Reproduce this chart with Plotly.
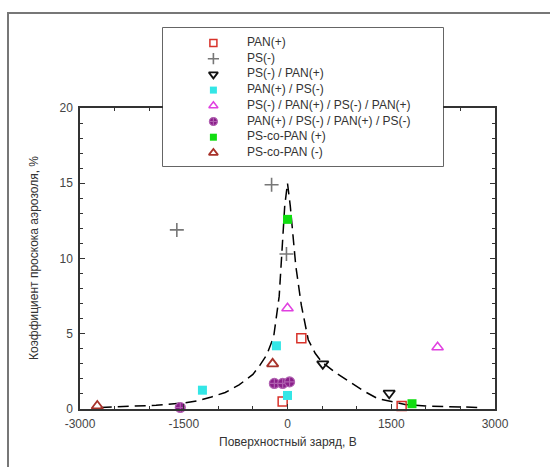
import plotly.graph_objects as go

W, H = 550, 467

# ---- data ----
pan_p_x = [-70, 200, 1650]
pan_p_y = [0.5, 4.7, 0.2]
ps_m_x = [-1600, -230, -15]
ps_m_y = [11.9, 14.9, 10.3]
ps_pan_x = [510, 1470]
ps_pan_y = [3.0, 1.05]
pan_ps_x = [-1230, -160, 0]
pan_ps_y = [1.25, 4.2, 0.9]
ps4_x = [0, 2170]
ps4_y = [6.7, 4.1]
pan4_x = [-1550, -190, -70, 30]
pan4_y = [0.1, 1.7, 1.7, 1.8]
co_p_x = [0, 1800]
co_p_y = [12.6, 0.35]
co_m_x = [-2750, -215]
co_m_y = [0.2, 3.0]

fit_x = [-2700, -2300, -1900, -1500, -1300, -1100, -900, -700, -500, -400, -300,
         -200, -120, -80, -40, 0, 40, 80, 120, 200, 300, 400, 500, 700, 900,
         1100, 1300, 1500, 1700, 2000, 2400, 2800]
fit_y = [0.1, 0.15, 0.25, 0.4, 0.55, 0.8, 1.1, 1.6, 2.3, 2.9, 3.6,
         4.8, 7.5, 10.5, 13.5, 15.0, 13.5, 11.5, 9.5, 6.9, 4.6, 3.7, 3.1, 2.4, 1.8,
         1.2, 0.7, 0.5, 0.3, 0.2, 0.15, 0.1]

labels = ["PAN(+)", "PS(-)", "PS(-) / PAN(+)", "PAN(+) / PS(-)",
          "PS(-) / PAN(+) / PS(-) / PAN(+)", "PAN(+) / PS(-) / PAN(+) / PS(-)",
          "PS-co-PAN (+)", "PS-co-PAN (-)"]
x_ticks = [-3000, -1500, 0, 1500, 3000]
y_ticks = [0, 5, 10, 15, 20]

series = [
    (pan_p_x, pan_p_y, dict(symbol="square-open", color="#d8322a", size=9, line=dict(width=1.5, color="#d8322a"))),
    (ps_m_x, ps_m_y, dict(symbol="cross-thin-open", color="#777777", size=10, line=dict(width=1.6, color="#777777"))),
    (ps_pan_x, ps_pan_y, dict(symbol="triangle-down-open", color="#111111", size=10, line=dict(width=1.8, color="#111111"))),
    (pan_ps_x, pan_ps_y, dict(symbol="square", color="#33e6e6", size=9, line=dict(width=0))),
    (ps4_x, ps4_y, dict(symbol="triangle-up-open", color="#e040e0", size=10, line=dict(width=1.5, color="#e040e0"))),
    (pan4_x, pan4_y, dict(symbol="circle-cross", color="#8a1f8a", size=10, line=dict(width=1.2, color="#b060b0"))),
    (co_p_x, co_p_y, dict(symbol="square", color="#11dd11", size=9, line=dict(width=0))),
    (co_m_x, co_m_y, dict(symbol="triangle-up-open", color="#a8322a", size=10, line=dict(width=1.8, color="#a8322a"))),
]

# plot area in pixels
PL, PR, PT, PB = 80, 495, 108, 409
# legend box in pixels
LL, LR, LT, LB = 163, 443, 28, 166

fig = go.Figure()

fig.add_trace(go.Scatter(x=fit_x, y=fit_y, mode="lines",
                         line=dict(color="black", width=1.5, dash="11px,6px"),
                         showlegend=False, cliponaxis=False, hoverinfo="skip"))

for (xs, ys, mk), name in zip(series, labels):
    fig.add_trace(go.Scatter(x=xs, y=ys, mode="markers", marker=mk, name=name,
                             showlegend=False, cliponaxis=False))

# custom legend drawn on its own axis
for i, ((xs, ys, mk), name) in enumerate(zip(series, labels)):
    m = dict(mk)
    m["size"] = max(mk["size"] - 2, 7)
    fig.add_trace(go.Scatter(x=[0.18], y=[i], mode="markers", marker=m,
                             xaxis="x2", yaxis="y2", showlegend=False, hoverinfo="skip"))
    fig.add_trace(go.Scatter(x=[0.3], y=[i], mode="text", text=[name],
                             textposition="middle right",
                             textfont=dict(family="Liberation Sans, Arial", size=12, color="#333333"),
                             xaxis="x2", yaxis="y2", showlegend=False, hoverinfo="skip"))

spacing = 15.7
first = 43
y2_top = (LT - first) / spacing
y2_bot = (LB - first) / spacing

axis_common = dict(showline=True, linecolor="#333333", linewidth=1.5, mirror="ticks",
                   ticks="inside", ticklen=5, tickwidth=1, tickcolor="#333333",
                   showgrid=False, zeroline=False, automargin=False,
                   tickfont=dict(family="Liberation Sans, Arial", size=12, color="#444444"))

fig.update_layout(
    width=W, height=H,
    margin=dict(l=0, r=0, t=0, b=0, autoexpand=False),
    paper_bgcolor="white", plot_bgcolor="white",
    showlegend=False,
    xaxis=dict(domain=[PL / W, PR / W], range=[-3000, 3000], tickvals=x_ticks,
               ticktext=[str(v) for v in x_ticks], ticklabelstandoff=3,
               minor=dict(dtick=500, ticks="inside", ticklen=3, tickcolor="#333333"),
               **axis_common),
    yaxis=dict(domain=[(H - PB) / H, (H - PT) / H], range=[0, 20], tickvals=y_ticks,
               ticklabelstandoff=3,
               minor=dict(dtick=1, ticks="inside", ticklen=3, tickcolor="#333333"),
               **axis_common),
    xaxis2=dict(domain=[LL / W, LR / W], range=[0, 1], visible=False, fixedrange=True,
                automargin=False),
    yaxis2=dict(domain=[(H - LB) / H, (H - LT) / H], range=[y2_bot, y2_top],
                visible=False, fixedrange=True, automargin=False),
    shapes=[
        dict(type="rect", xref="paper", yref="paper", x0=8 / W, x1=1.05,
             y0=-0.05, y1=(H - 13) / H, line=dict(color="#777777", width=2)),
        dict(type="rect", xref="paper", yref="paper", x0=LL / W, x1=LR / W,
             y0=(H - LB) / H, y1=(H - LT) / H, fillcolor="white",
             line=dict(color="#333333", width=1.5), layer="below"),
    ],
    annotations=[
        dict(text="Поверхностный заряд, В", xref="paper", yref="paper",
             x=288 / W, y=(H - 442) / H, xanchor="center", yanchor="middle",
             showarrow=False,
             font=dict(family="Liberation Sans, Arial", size=12, color="#333333")),
        dict(text="Коэффициент проскока аэрозоля, %", xref="paper", yref="paper",
             x=34 / W, y=(H - 258) / H, xanchor="center", yanchor="middle",
             showarrow=False, textangle=-90,
             font=dict(family="Liberation Sans, Arial", size=12, color="#333333")),
    ],
)

fig.write_html("out.html")
